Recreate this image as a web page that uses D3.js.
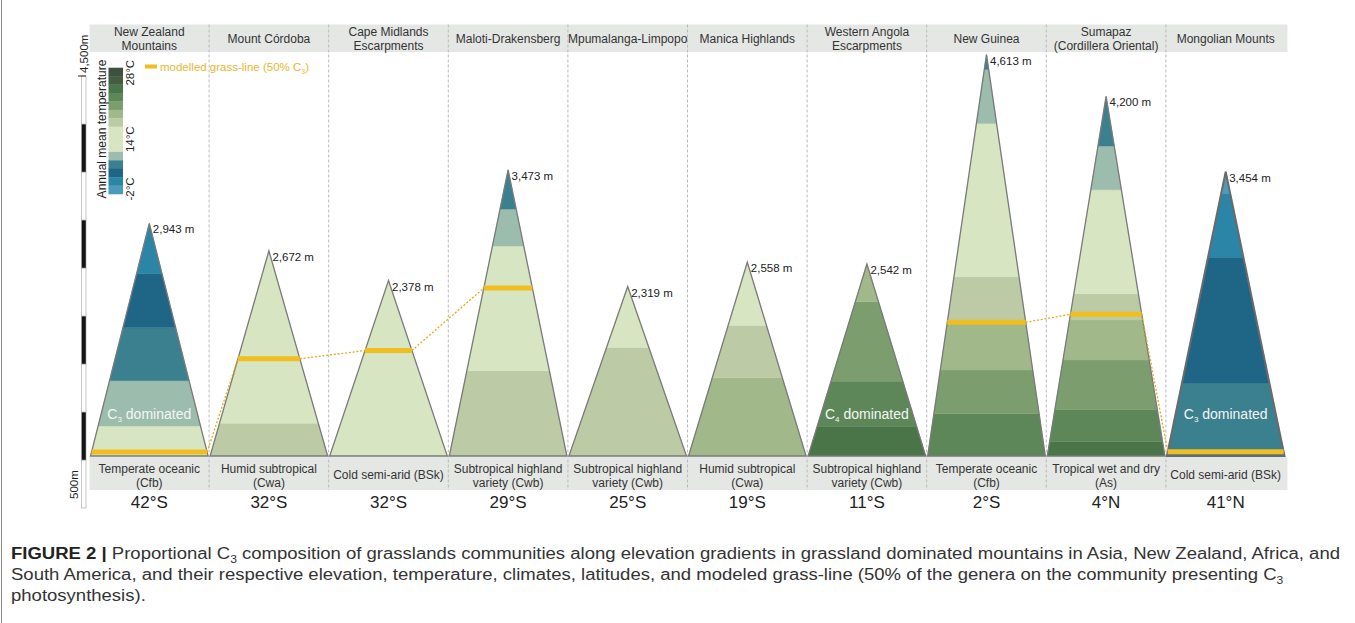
<!DOCTYPE html>
<html>
<head>
<meta charset="utf-8">
<script src="https://cdn.jsdelivr.net/npm/d3@7"></script>
<style>
  body { margin: 0; background: #fff; }
  svg { display: block; font-family: "Liberation Sans", Arial, sans-serif; }
</style>
</head>
<body>
<div id="chart"></div>
<script>
// one entry per mountain, left to right ('|' splits a label over two lines)
var mountains = ['New Zealand|Mountains', 'Mount Córdoba', 'Cape Midlands|Escarpments', 'Maloti-Drakensberg',
  'Mpumalanga-Limpopo', 'Manica Highlands', 'Western Angola|Escarpments', 'New Guinea',
  'Sumapaz|(Cordillera Oriental)', 'Mongolian Mounts'];
var elevations = [2943, 2672, 2378, 3473, 2319, 2558, 2542, 4613, 4200, 3454];
var climates = ['Temperate oceanic|(Cfb)', 'Humid subtropical|(Cwa)', 'Cold semi-arid (BSk)',
  'Subtropical highland|variety (Cwb)', 'Subtropical highland|variety (Cwb)', 'Humid subtropical|(Cwa)',
  'Subtropical highland|variety (Cwb)', 'Temperate oceanic|(Cfb)', 'Tropical wet and dry|(As)', 'Cold semi-arid (BSk)'];
var latitudes = ['42°S', '32°S', '32°S', '29°S', '25°S', '19°S', '11°S', '2°S', '4°N', '41°N'];

// temperature bands, bottom to top: [temperature class, top of band as share of mountain height]
var bands = [
  [[7, 0.129], [8, 0.324], [9, 0.552], [10, 0.784], [11, 1]],
  [[6, 0.16], [7, 1]],
  [[7, 1]],
  [[6, 0.298], [7, 0.734], [8, 0.863], [9, 1]],
  [[6, 0.64], [7, 1]],
  [[5, 0.404], [6, 0.674], [7, 1]],
  [[2, 0.155], [3, 0.389], [4, 0.803], [5, 1]],
  [[3, 0.105], [4, 0.214], [5, 0.334], [6, 0.446], [7, 0.828], [8, 0.963], [9, 1]],
  [[2, 0.04], [3, 0.129], [4, 0.267], [5, 0.378], [6, 0.451], [7, 0.74], [8, 0.862], [9, 1]],
  [[9, 0.257], [10, 0.699], [11, 0.922], [12, 1]]
];
// modelled grass-line (50% C3), share of mountain height
var grassLine = [0.017, 0.474, 0.601, 0.587, null, null, null, 0.333, 0.394, 0.015];
var dominated = ['3', null, null, null, null, null, '4', null, null, '3'];

// annual mean temperature classes, hot to cold
var tempColors = ['#3e503f', '#455c41', '#4a7549', '#5d8758', '#7c9d6e', '#a1b88a', '#bccaa5', '#d8e5c2',
  '#9cbcae', '#3b808f', '#1f6586', '#2a85a6', '#4b9bb9'];
var tempWeights = [1, 1, 1, 1, 1, 1, 1, 3, 1, 1, 1, 1, 1];
var tempTicks = [{ label: '28°C', at: 0.6 }, { label: '14°C', at: 8.5 }, { label: '-2°C', at: 14.4 }];

var scaleSteps = d3.range(0, 4500, 500);

var settings = {
  width: 1355,
  height: 623,
  col_left: 89.5,
  col_right: 1285.5,
  head_top: 24.5,
  head_bottom: 52,
  base_y: 456,
  foot_bottom: 490,
  band_color: '#e5e7e5',
  grass_color: '#f0be1e',
  link_color: '#e2a91e',
  font_size: 12
};

var svg = d3.select('#chart').append('svg')
  .attr('width', settings.width)
  .attr('height', settings.height);

var x = d3.scaleBand()
  .domain(d3.range(mountains.length))
  .range([settings.col_left, settings.col_right]);

// drawn peak heights
var y = d3.scaleLinear()
  .domain([0, 4500])
  .range([521, 66]);

// figure frame
svg.append('line')
  .attr('x1', 1.5).attr('x2', 1.5)
  .attr('y1', 0).attr('y2', settings.height)
  .style('stroke', '#8a8a8a');

// header and footer bands
svg.append('rect')
  .attr('x', settings.col_left).attr('y', settings.head_top)
  .attr('width', settings.col_right - settings.col_left + 2)
  .attr('height', settings.head_bottom - settings.head_top)
  .style('fill', settings.band_color);

svg.append('rect')
  .attr('x', settings.col_left).attr('y', settings.base_y + 1)
  .attr('width', settings.col_right - settings.col_left + 2)
  .attr('height', settings.foot_bottom - settings.base_y - 1)
  .style('fill', settings.band_color);

svg.selectAll('line.divider')
  .data(d3.range(1, mountains.length))
  .enter().append('line')
  .attr('class', 'divider')
  .attr('x1', function(d) { return x(d); })
  .attr('x2', function(d) { return x(d); })
  .attr('y1', settings.head_top)
  .attr('y2', settings.foot_bottom)
  .style('stroke', '#b9b9b9')
  .style('stroke-dasharray', '3,2');

function multiline(sel, baseTwo, baseOne, gap) {
  sel.each(function(d) {
    var lines = d.split('|');
    var t = d3.select(this);
    var y0 = lines.length > 1 ? baseTwo : baseOne;
    lines.forEach(function(line, k) {
      t.append('tspan')
        .attr('x', t.attr('x'))
        .attr('y', y0 + k * gap)
        .text(line);
    });
  });
}

svg.selectAll('text.head')
  .data(mountains)
  .enter().append('text')
  .attr('class', 'head')
  .attr('x', function(d, i) { return x(i) + x.bandwidth() / 2; })
  .style('text-anchor', 'middle')
  .style('font-size', settings.font_size + 'px')
  .style('fill', '#333')
  .call(multiline, 35.8, 42.5, 14);

svg.selectAll('text.climate')
  .data(climates)
  .enter().append('text')
  .attr('class', 'climate')
  .attr('x', function(d, i) { return x(i) + x.bandwidth() / 2; })
  .style('text-anchor', 'middle')
  .style('font-size', settings.font_size + 'px')
  .style('fill', '#333')
  .call(multiline, 472.5, 478.5, 14);

svg.selectAll('text.lat')
  .data(latitudes)
  .enter().append('text')
  .attr('class', 'lat')
  .attr('x', function(d, i) { return x(i) + x.bandwidth() / 2; })
  .attr('y', 507.5)
  .style('text-anchor', 'middle')
  .style('font-size', '17px')
  .style('fill', '#222')
  .text(function(d) { return d; });

// mountains
var geo = elevations.map(function(e, i) {
  var left = x(i) + 1, right = x(i) + x.bandwidth() - 1;
  return {
    cx: (left + right) / 2,
    hw: (right - left) / 2,
    h: d3.scaleLinear().domain([0, 1]).range([settings.base_y, y(e)])
  };
});

function edge(g, f, side) {
  return [g.cx + side * (1 - f) * g.hw, g.h(f)];
}

var mountain = svg.selectAll('g.mountain')
  .data(elevations)
  .enter().append('g')
  .attr('class', 'mountain');

mountain.each(function(e, i) {
  var g = geo[i];
  var m = d3.select(this);
  var lo = 0;
  bands[i].forEach(function(b) {
    var hi = b[1];
    m.append('path')
      .attr('d', d3.line()([edge(g, lo, -1), edge(g, lo, 1), edge(g, hi, 1), edge(g, hi, -1)]) + 'Z')
      .style('fill', tempColors[b[0]])
      .style('stroke', tempColors[b[0]])
      .style('stroke-width', 0.4);
    lo = hi;
  });
  m.append('path')
    .attr('d', d3.line()([edge(g, 0, -1), edge(g, 0, 1), edge(g, 1, 1)]) + 'Z')
    .style('fill', 'none')
    .style('stroke', i === mountains.length - 1 ? '#6a6a6a' : '#7a7a7a')
    .style('stroke-width', i === mountains.length - 1 ? 2 : 1.3)
    .style('stroke-linejoin', 'miter');
  m.append('text')
    .attr('x', g.cx + 3.5)
    .attr('y', g.h(1) + 10)
    .style('font-size', '11.5px')
    .style('fill', '#222')
    .text(d3.format(',')(e) + ' m');
  if (dominated[i]) {
    var t = m.append('text')
      .attr('x', g.cx)
      .attr('y', 418.5)
      .style('text-anchor', 'middle')
      .style('font-size', '14px')
      .style('fill', '#f4f6f4');
    t.append('tspan').text('C');
    t.append('tspan').attr('dy', 3.5).style('font-size', '8px').text(dominated[i]);
    t.append('tspan').attr('dy', -3.5).text(' dominated');
  }
});

// grass-line and its links between neighbouring mountains
var prev = null;
grassLine.forEach(function(f, i) {
  if (f === null) { prev = null; return; }
  var g = geo[i];
  var l = edge(g, f, -1), r = edge(g, f, 1);
  if (prev) {
    svg.append('line')
      .attr('x1', prev[0]).attr('y1', prev[1])
      .attr('x2', l[0]).attr('y2', l[1])
      .style('stroke', settings.link_color)
      .style('stroke-width', 1.3)
      .style('stroke-dasharray', '2,1.8');
  }
  svg.append('line')
    .attr('x1', l[0]).attr('y1', l[1])
    .attr('x2', r[0]).attr('y2', r[1])
    .style('stroke', settings.grass_color)
    .style('stroke-width', 5);
  prev = r;
});

// elevation scale bar
var bar = d3.scaleLinear().domain([0, 4500]).range([508, 76]);
svg.selectAll('rect.step')
  .data(scaleSteps)
  .enter().append('rect')
  .attr('class', 'step')
  .attr('x', 81.5)
  .attr('y', function(d) { return bar(d + 500); })
  .attr('width', 4.5)
  .attr('height', function(d) { return bar(d) - bar(d + 500); })
  .style('fill', function(d, i) { return i % 2 ? '#141414' : '#fff'; })
  .style('stroke', '#a0a0a0')
  .style('stroke-width', 0.6);
svg.append('line')
  .attr('x1', 78).attr('x2', 86)
  .attr('y1', bar(4500)).attr('y2', bar(4500))
  .style('stroke', '#222');
svg.append('text')
  .attr('transform', 'translate(87.5,' + (bar(4500) - 3) + ') rotate(-90)')
  .style('font-size', '11.5px')
  .style('fill', '#222')
  .text('4,500m');
svg.append('text')
  .attr('transform', 'translate(77.5,499) rotate(-90)')
  .style('font-size', '11.5px')
  .style('fill', '#222')
  .text('500m');

// temperature legend
var tl = d3.scaleLinear().domain([0, d3.sum(tempWeights)]).range([67.7, 194]);
var cum = 0;
tempColors.forEach(function(c, i) {
  svg.append('rect')
    .attr('x', 108.5)
    .attr('y', tl(cum))
    .attr('width', 14.5)
    .attr('height', tl(cum + tempWeights[i]) - tl(cum) + 0.3)
    .style('fill', c);
  cum += tempWeights[i];
});
svg.selectAll('text.ttick')
  .data(tempTicks)
  .enter().append('text')
  .attr('class', 'ttick')
  .attr('transform', function(d) { return 'translate(133.5,' + tl(d.at) + ') rotate(-90)'; })
  .style('text-anchor', 'middle')
  .style('font-size', '11.5px')
  .style('fill', '#222')
  .text(function(d) { return d.label; });
svg.append('text')
  .attr('transform', 'translate(106,129) rotate(-90)')
  .style('text-anchor', 'middle')
  .style('font-size', '12px')
  .style('fill', '#222')
  .text('Annual mean temperature');

// grass-line legend
svg.append('rect')
  .attr('x', 145).attr('y', 64.5)
  .attr('width', 12).attr('height', 4)
  .style('fill', settings.grass_color);
var gl = svg.append('text')
  .attr('x', 160).attr('y', 71)
  .style('font-size', '11.5px')
  .style('fill', '#ebb531');
gl.append('tspan').text('modelled grass-line (50% C');
gl.append('tspan').attr('dy', 2.5).style('font-size', '7px').text('3');
gl.append('tspan').attr('dy', -2.5).text(')');

// caption, condensed to the width of its first line
var caption = [
  { y: 559, parts: [['FIGURE 2 | ', 'b'], ['Proportional C'], ['3', 's'],
    [' composition of grasslands communities along elevation gradients in grassland dominated mountains in Asia, New Zealand, Africa, and']] },
  { y: 580, parts: [['South America, and their respective elevation, temperature, climates, latitudes, and modeled grass-line (50% of the genera on the community presenting C'], ['3', 's']] },
  { y: 601, parts: [['photosynthesis).']] }
];
var captionTexts = caption.map(function(line) {
  var t = svg.append('text')
    .attr('x', 11).attr('y', line.y)
    .style('font-size', '16px')
    .style('fill', '#333');
  var sub = false;
  line.parts.forEach(function(p) {
    var s = t.append('tspan').text(p[0]);
    if (p[1] === 'b') s.style('font-weight', 'bold').style('fill', '#222');
    if (p[1] === 's') { s.attr('dy', 4).style('font-size', '10.5px'); sub = true; }
    else if (sub) { s.attr('dy', -4); sub = false; }
  });
  return t;
});
var squeeze = 1329 / captionTexts[0].node().getComputedTextLength();
captionTexts.forEach(function(t) {
  t.attr('textLength', t.node().getComputedTextLength() * squeeze)
    .attr('lengthAdjust', 'spacingAndGlyphs');
});
</script>
</body>
</html>
